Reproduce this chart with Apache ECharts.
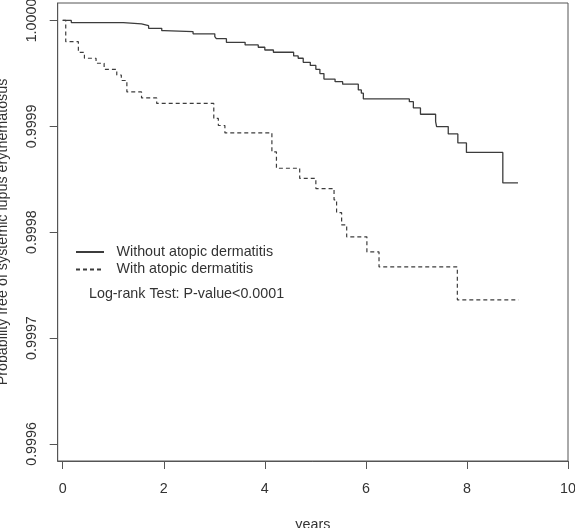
<!DOCTYPE html>
<html>
<head>
<meta charset="utf-8">
<script src="https://cdn.jsdelivr.net/npm/echarts@6/dist/echarts.min.js"></script>
<style>
html,body{margin:0;padding:0;background:#fff;}
#chart{width:575px;height:528px;}
</style>
</head>
<body>
<div id="chart"></div>
<script>
// Kaplan-Meier curves: time (years) and survival probability after each step
const seriesNames = ['Without atopic dermatitis', 'With atopic dermatitis'];

const withoutTimes = [0, 0.17, 1.20, 1.56, 1.70, 1.96, 2.01, 2.58, 3.01, 3.04,
  3.24, 3.61, 3.87, 4.00, 4.17, 4.57, 4.66, 4.76, 4.90, 5.01,
  5.09, 5.17, 5.39, 5.54, 5.85, 5.91, 5.95, 6.86, 6.94, 7.08,
  7.38, 7.40, 7.63, 7.82, 7.99, 8.71, 9.01];
const withoutSurv = [1.0, 0.999998, 0.9999967, 0.9999951, 0.9999926, 0.9999904, 0.9999894, 0.9999874, 0.9999847, 0.9999828,
  0.9999794, 0.9999769, 0.9999747, 0.9999721, 0.99997, 0.9999665, 0.9999643, 0.9999605, 0.9999575, 0.9999539,
  0.9999498, 0.9999446, 0.9999422, 0.9999398, 0.9999344, 0.9999313, 0.9999259, 0.9999233, 0.9999174, 0.9999114,
  0.9999044, 0.9998998, 0.9998928, 0.9998843, 0.9998754, 0.9998466, 0.9998466];

const withTimes = [0, 0.06, 0.31, 0.43, 0.66, 0.82, 1.07, 1.16, 1.27, 1.56,
  1.86, 2.99, 3.08, 3.21, 4.14, 4.23, 4.69, 5.01, 5.37, 5.42,
  5.52, 5.62, 6.02, 6.26, 7.81, 9.02];
const withSurv = [1.0, 0.99998, 0.9999698, 0.9999643, 0.9999596, 0.9999539, 0.9999485, 0.9999433, 0.9999325, 0.9999268,
  0.9999216, 0.9999075, 0.9999008, 0.9998938, 0.9998758, 0.9998604, 0.9998508, 0.9998412, 0.9998305, 0.9998185,
  0.9998069, 0.9997956, 0.9997814, 0.9997672, 0.9997361, 0.9997361];

const xTicks = [0, 2, 4, 6, 8, 10];
const yTicks = [0.9996, 0.9997, 0.9998, 0.9999, 1.0];

const xTitle = 'years';
const yTitle = 'Probability free of systemic lupus erythematosus';
const note = 'Log-rank Test: P-value<0.0001';

const zip = (a, b) => a.map((v, i) => [v, b[i]]);

const FONT = 'Liberation Sans, Arial, sans-serif';
const TXT = '#333';
const LINE = '#3c3c3c';
const AX = '#555';

const chart = echarts.init(document.getElementById('chart'), null, {renderer: 'canvas'});
chart.setOption({
  animation: false,
  backgroundColor: '#fff',
  textStyle: {fontFamily: FONT},
  grid: {left: 57.7, right: 7, top: 3, bottom: 67, show: true, borderColor: AX, borderWidth: 1,
    backgroundColor: 'transparent', containLabel: false, outerBoundsMode: 'none'},
  title: {
    text: note, left: 84, top: 281,
    textStyle: {fontFamily: FONT, fontSize: 14.3, fontWeight: 'normal', color: TXT, lineHeight: 16}
  },
  legend: {
    orient: 'vertical', left: 70, top: 240,
    itemWidth: 28, itemHeight: 14, itemGap: 3.5,
    itemStyle: {opacity: 0},
    textStyle: {fontFamily: FONT, fontSize: 14.3, color: TXT, lineHeight: 14, padding: [0, 0, 0, 7.5]},
    data: seriesNames
  },
  xAxis: {
    type: 'value', min: -0.099, max: 10,
    name: xTitle, nameLocation: 'middle', nameGap: 57,
    nameTextStyle: {fontFamily: FONT, fontSize: 14.3, color: TXT},
    axisLine: {show: true, onZero: false, lineStyle: {color: AX, width: 1}},
    axisTick: {show: true, length: 8, customValues: xTicks, lineStyle: {color: AX}},
    axisLabel: {show: true, customValues: xTicks, margin: 21.5, fontFamily: FONT, fontSize: 14.3, color: TXT},
    splitLine: {show: false}
  },
  yAxis: {
    type: 'value', min: 0.9995839, max: 1.0000165,
    name: yTitle, nameLocation: 'middle', nameGap: 48, nameRotate: 90,
    nameTextStyle: {fontFamily: FONT, fontSize: 14.3, color: TXT},
    axisLine: {show: true, onZero: false, lineStyle: {color: AX, width: 1}},
    axisTick: {show: true, length: 8, customValues: yTicks, lineStyle: {color: AX}},
    axisLabel: {show: true, customValues: yTicks, rotate: 90, margin: 19, fontFamily: FONT, fontSize: 14.3, color: TXT,
      formatter: v => v.toFixed(4)},
    splitLine: {show: false}
  },
  series: [
    {
      name: seriesNames[0], type: 'line', step: 'end', symbol: 'none',
      data: zip(withoutTimes, withoutSurv),
      lineStyle: {color: LINE, width: 1.3, type: 'solid'},
      itemStyle: {color: LINE}
    },
    {
      name: seriesNames[1], type: 'line', step: 'end', symbol: 'none',
      data: zip(withTimes, withSurv),
      lineStyle: {color: LINE, width: 1.2, type: [4, 3]},
      itemStyle: {color: LINE}
    }
  ]
});
</script>
</body>
</html>
